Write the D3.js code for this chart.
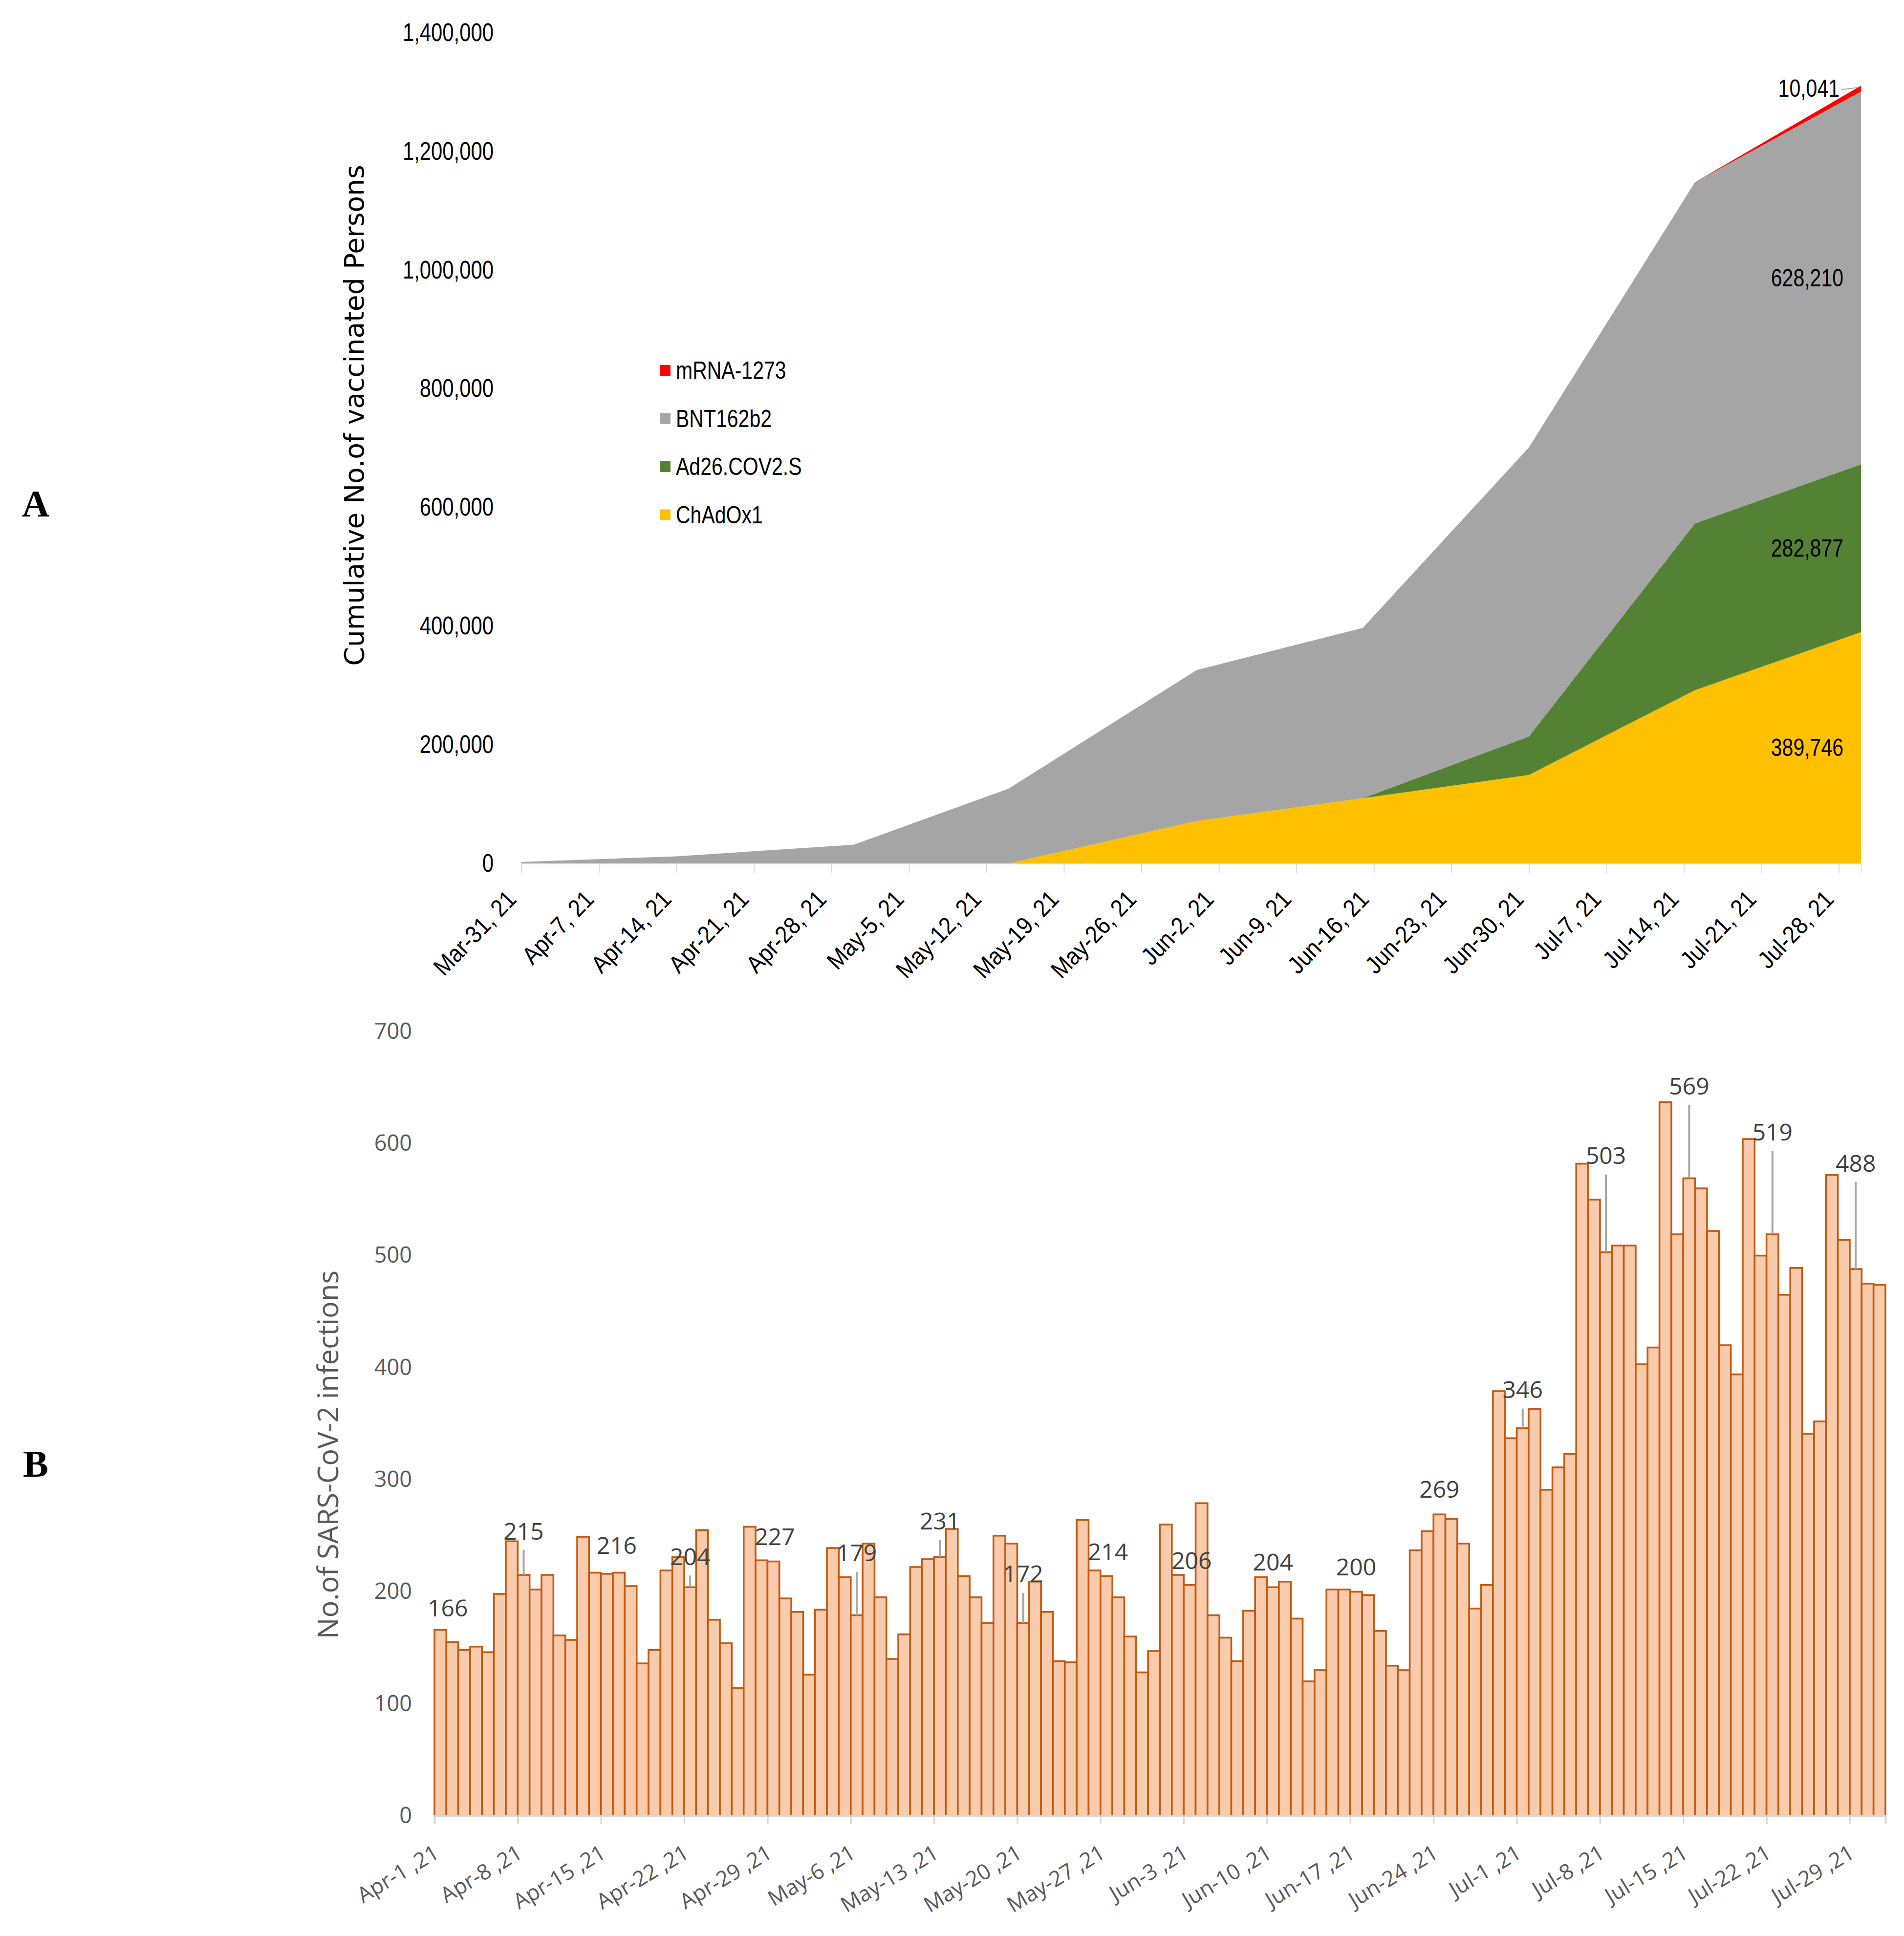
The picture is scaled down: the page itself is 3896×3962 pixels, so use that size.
<!DOCTYPE html>
<html>
<head>
<meta charset="utf-8">
<script src="https://cdn.jsdelivr.net/npm/d3@7"></script>
<style>
  body { margin: 0; background: #fff; }
</style>
</head>
<body>
<svg id="chart"></svg>
<script>
// ---- panel A: cumulative vaccinated persons, by vaccine ----
const vaxDates = ['2021-03-31', '2021-04-14', '2021-04-30', '2021-05-14', '2021-05-31',
                  '2021-06-15', '2021-06-30', '2021-07-15', '2021-07-30'];
const chAdOx1  = [0, 0, 0, 0, 71500, 110000, 149000, 292000, 389746];
const ad26     = [0, 0, 0, 0, 0, 0, 65000, 281000, 282877];
const bnt162b2 = [2500, 12000, 31500, 126000, 254500, 287000, 487000, 575000, 628210];
const mrna1273 = [0, 0, 0, 0, 0, 0, 0, 0, 10041];
const vaccines = ['ChAdOx1', 'Ad26.COV2.S', 'BNT162b2', 'mRNA-1273'];
const vaxTicks = ['2021-03-31', '2021-04-07', '2021-04-14', '2021-04-21', '2021-04-28', '2021-05-05',
                  '2021-05-12', '2021-05-19', '2021-05-26', '2021-06-02', '2021-06-09', '2021-06-16',
                  '2021-06-23', '2021-06-30', '2021-07-07', '2021-07-14', '2021-07-21', '2021-07-28'];
const vaxYTicks = [0, 200000, 400000, 600000, 800000, 1000000, 1200000, 1400000];

// ---- panel B: daily SARS-CoV-2 infections, Apr 1 - Jul 31 ----
const caseStart = '2021-04-01';
const dailyCases = [
  166, 155, 148, 151, 146, 198, 245, 215, 202, 215, 161, 157, 249, 217, 216, 217, 205, 136, 148, 219,
  231, 204, 255, 175, 154, 114, 258, 228, 227, 194, 182, 126, 184, 239, 213, 179, 243, 195, 140, 162,
  222, 229, 231, 256, 214, 195, 172, 250, 243, 172, 209, 182, 138, 137, 264, 219, 214, 195, 160, 128,
  147, 260, 215, 206, 279, 179, 159, 138, 183, 213, 204, 209, 176, 120, 130, 202, 202, 200, 197, 165,
  134, 130, 237, 254, 269, 265, 243, 185, 206, 379, 337, 346, 363, 291, 311, 323, 582, 550, 503, 509,
  509, 403, 418, 637, 519, 569, 560, 522, 420, 394, 604, 500, 519, 465, 489, 341, 352, 572, 514, 488,
  475, 474
];
const caseTicks = ['2021-04-01', '2021-04-08', '2021-04-15', '2021-04-22', '2021-04-29', '2021-05-06',
                   '2021-05-13', '2021-05-20', '2021-05-27', '2021-06-03', '2021-06-10', '2021-06-17',
                   '2021-06-24', '2021-07-01', '2021-07-08', '2021-07-15', '2021-07-22', '2021-07-29'];
const caseYTicks = [0, 100, 200, 300, 400, 500, 600, 700];

const parse = d3.timeParse('%Y-%m-%d');
const arial = '"Liberation Sans", Arial, sans-serif';
const verdana = '"DejaVu Sans", Verdana, sans-serif';
const segoe = '"Open Sans", "Noto Sans", sans-serif';

// squash text horizontally (the original uses a narrow face)
function squeeze(sel, k) {
    sel.each(function () {
        const w = this.getComputedTextLength();
        d3.select(this).attr('textLength', w * k).attr('lengthAdjust', 'spacingAndGlyphs');
    });
}

const svg = d3.select('#chart')
    .attr('width', 3896)
    .attr('height', 3962)
    .style('background', '#fff');

// ================= panel A =================
const rows = vaxDates.map((d, i) => ({
    date: parse(d),
    'ChAdOx1': chAdOx1[i],
    'Ad26.COV2.S': ad26[i],
    'BNT162b2': bnt162b2[i],
    'mRNA-1273': mrna1273[i]
}));
const color = d3.scaleOrdinal()
    .domain(vaccines)
    .range(['#FFC000', '#548235', '#A5A5A5', '#FF0000']);

const xA = d3.scaleTime()
    .domain([parse('2021-03-31'), parse('2021-07-30')])
    .range([1067, 3808]);
const yA = d3.scaleLinear()
    .domain([0, 1400000])
    .range([1767, 67]);

const series = d3.stack().keys(vaccines)(rows);
const area = d3.area()
    .x(d => xA(d.data.date))
    .y0(d => yA(d[0]))
    .y1(d => yA(d[1]));

const gA = svg.append('g');

gA.selectAll('.layer')
    .data(series)
    .enter().append('path')
    .attr('class', 'layer')
    .attr('d', area)
    .attr('fill', d => color(d.key));

// x axis
const axA = gA.append('g')
    .attr('transform', 'translate(0,1767)')
    .call(d3.axisBottom(xA)
        .tickValues(vaxTicks.map(parse))
        .tickSize(20)
        .tickFormat(d3.timeFormat('%b-%-d, %y')));
axA.select('.domain').attr('stroke', '#D9D9D9').attr('stroke-width', 2);
axA.selectAll('.tick line').attr('stroke', '#D9D9D9').attr('stroke-width', 2);
axA.selectAll('.tick text')
    .attr('x', 0).attr('y', 0).attr('dy', 0)
    .attr('transform', 'translate(-8,76) rotate(-46)')
    .attr('text-anchor', 'end')
    .attr('fill', '#000')
    .style('font-family', arial)
    .style('font-size', '50px')
    .call(squeeze, 0.9);

// y axis
const ayA = gA.append('g')
    .attr('transform', 'translate(1067,0)')
    .call(d3.axisLeft(yA)
        .tickValues(vaxYTicks)
        .tickSize(0)
        .tickPadding(57)
        .tickFormat(d3.format(',')));
ayA.select('.domain').remove();
ayA.selectAll('.tick text')
    .attr('fill', '#000')
    .style('font-family', arial)
    .style('font-size', '51px')
    .call(squeeze, 0.82);

gA.append('text')
    .attr('transform', 'translate(725,850) rotate(-90)')
    .attr('text-anchor', 'middle')
    .attr('dominant-baseline', 'central')
    .attr('fill', '#000')
    .style('font-family', verdana)
    .style('font-size', '55px')
    .text('Cumulative No.of vaccinated Persons');

// legend (top to bottom: mRNA-1273 first)
const legend = gA.selectAll('.legend')
    .data(vaccines.slice().reverse())
    .enter().append('g')
    .attr('class', 'legend')
    .attr('transform', (d, i) => `translate(1350, ${758 + i * 98.5})`);
legend.append('rect')
    .attr('x', 0)
    .attr('y', -11)
    .attr('width', 22)
    .attr('height', 22)
    .attr('fill', d => color(d));
legend.append('text')
    .attr('x', 33)
    .attr('y', 0)
    .attr('dominant-baseline', 'central')
    .attr('fill', '#000')
    .style('font-family', arial)
    .style('font-size', '50px')
    .text(d => d)
    .call(squeeze, 0.82);

// value labels at last point, centred in each band
const last = series.map(s => s[s.length - 1]);
const lastX = xA(rows[rows.length - 1].date);
gA.selectAll('.vlabel')
    .data(last)
    .enter().append('text')
    .attr('class', 'vlabel')
    .attr('x', (d, i) => i === 3 ? lastX - 44 : lastX - 36)
    .attr('y', d => (yA(d[0]) + yA(d[1])) / 2)
    .attr('text-anchor', 'end')
    .attr('dominant-baseline', 'central')
    .attr('fill', '#000')
    .style('font-family', arial)
    .style('font-size', '50px')
    .text(d => d3.format(',')(d[1] - d[0]))
    .call(squeeze, 0.82);
gA.append('line')
    .attr('x1', lastX - 40)
    .attr('x2', lastX - 6)
    .attr('y1', (yA(last[3][0]) + yA(last[3][1])) / 2 + 2)
    .attr('y2', (yA(last[3][0]) + yA(last[3][1])) / 2 - 2)
    .attr('stroke', '#A6A6A6')
    .attr('stroke-width', 2);

// ================= panel B =================
const day0 = parse(caseStart);
const cases = dailyCases.map((v, i) => ({ date: d3.timeDay.offset(day0, i), value: v }));

const xB = d3.scaleTime()
    .domain([day0, d3.timeDay.offset(day0, dailyCases.length)])
    .range([889, 3858]);
const yB = d3.scaleLinear()
    .domain([0, 700])
    .range([3716, 2111]);

const gB = svg.append('g');

gB.selectAll('.bar')
    .data(cases)
    .enter().append('rect')
    .attr('class', 'bar')
    .attr('x', d => xB(d.date))
    .attr('width', d => xB(d3.timeDay.offset(d.date, 1)) - xB(d.date))
    .attr('y', d => yB(d.value))
    .attr('height', d => yB(0) - yB(d.value))
    .attr('fill', '#F8CBAD')
    .attr('stroke', '#C55A11')
    .attr('stroke-width', 3.6);

const axB = gB.append('g')
    .attr('transform', `translate(0,${yB(0)})`)
    .call(d3.axisBottom(xB)
        .tickValues(caseTicks.map(parse))
        .tickSize(17)
        .tickFormat(d3.timeFormat('%b-%-d ,%y')));
axB.select('.domain').attr('stroke', '#D9D9D9').attr('stroke-width', 4);
axB.selectAll('.tick line').attr('stroke', '#D9D9D9').attr('stroke-width', 3.5);
axB.selectAll('.tick text')
    .attr('x', 0).attr('y', 0).attr('dy', 0)
    .attr('transform', 'translate(12,84) rotate(-31)')
    .attr('text-anchor', 'end')
    .attr('fill', '#595959')
    .style('font-family', segoe)
    .style('font-size', '44px');

const ayB = gB.append('g')
    .attr('transform', 'translate(889,0)')
    .call(d3.axisLeft(yB)
        .tickValues(caseYTicks)
        .tickSize(0)
        .tickPadding(46));
ayB.select('.domain').remove();
ayB.selectAll('.tick text')
    .attr('fill', '#595959')
    .style('font-family', segoe)
    .style('font-size', '45px');

gB.append('text')
    .attr('transform', 'translate(669,2977) rotate(-90)')
    .attr('text-anchor', 'middle')
    .attr('dominant-baseline', 'central')
    .attr('fill', '#595959')
    .style('font-family', segoe)
    .style('font-size', '58px')
    .text('No.of SARS-CoV-2 infections');

// weekly callouts on the tick days; lift = label centre above bar top (px),
// leader = draw grey leader line, dx = small horizontal nudge
const callouts = [
  { lift: 46, dx: 15 }, { lift: 91, leader: true }, { lift: 59, dx: 20 }, { lift: 64, leader: true },
  { lift: 52, dx: 3 }, { lift: 129, leader: true }, { lift: 75, leader: true }, { lift: 102, leader: true },
  { lift: 51, dx: 3 }, { lift: 51, dx: 4 }, { lift: 53 }, { lift: 52 }, { lift: 53 },
  { lift: 80, leader: true }, { lift: 199, leader: true }, { lift: 190, leader: true },
  { lift: 211, leader: true }, { lift: 218, leader: true }
];
const labelled = caseTicks.map((t, i) => {
    const d = cases.find(c => +c.date === +parse(t));
    const cx = (xB(d.date) + xB(d3.timeDay.offset(d.date, 1))) / 2;
    return { d, cx, top: yB(d.value), ...callouts[i] };
});

gB.selectAll('.leader')
    .data(labelled.filter(l => l.leader))
    .enter().append('line')
    .attr('class', 'leader')
    .attr('x1', l => l.cx)
    .attr('x2', l => l.cx)
    .attr('y1', l => l.top - l.lift + 40)
    .attr('y2', l => l.top)
    .attr('stroke', '#A6A6A6')
    .attr('stroke-width', 4);

gB.selectAll('.clabel')
    .data(labelled)
    .enter().append('text')
    .attr('class', 'clabel')
    .attr('x', l => l.cx + (l.dx || 0))
    .attr('y', l => l.top - l.lift)
    .attr('text-anchor', 'middle')
    .attr('dominant-baseline', 'central')
    .attr('fill', '#404040')
    .style('font-family', segoe)
    .style('font-size', '48px')
    .text(l => l.d.value);

// panel letters
svg.selectAll('.panel')
    .data([['A', 1030], ['B', 2995]])
    .enter().append('text')
    .attr('class', 'panel')
    .attr('x', 73)
    .attr('y', d => d[1])
    .attr('text-anchor', 'middle')
    .attr('dominant-baseline', 'central')
    .attr('fill', '#000')
    .style('font-family', '"Liberation Serif", "Times New Roman", serif')
    .style('font-weight', 'bold')
    .style('font-size', '78px')
    .text(d => d[0]);
</script>
</body>
</html>
